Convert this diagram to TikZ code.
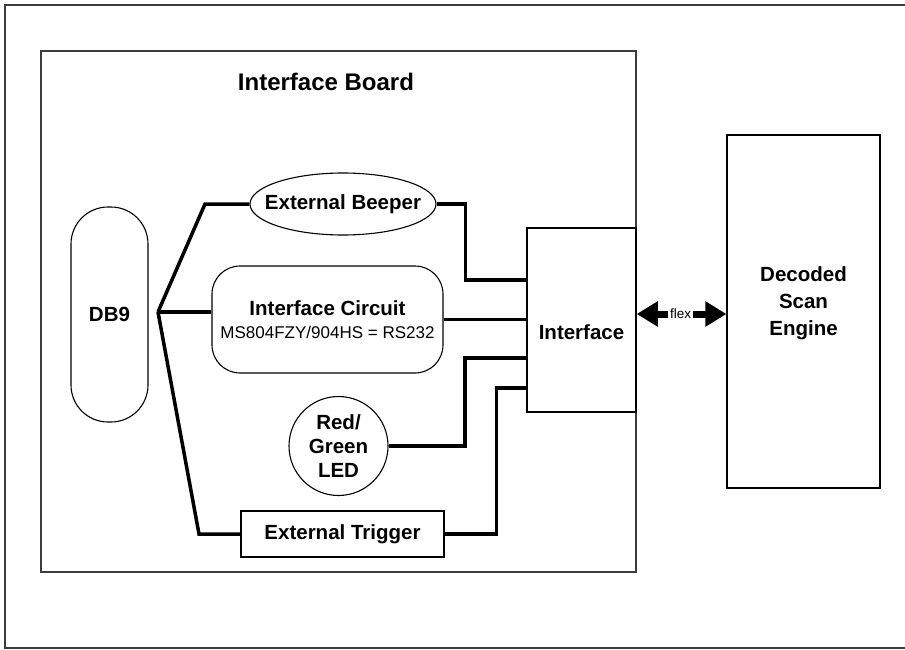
\documentclass[tikz,border=0pt]{standalone}
\usepackage{fontspec}
\setmainfont{Liberation Sans}
\usetikzlibrary{arrows.meta}
\usetikzlibrary{shapes.geometric}
\definecolor{frameGray}{RGB}{60,60,60}
\tikzset{
	frame/.style={draw=frameGray, line width=1.5pt},
	block/.style={draw=black, line width=1.1pt, inner sep=0pt, align=center,
		font=\bfseries\fontsize{20.5}{24}\selectfont},
	lbl/.style={font=\bfseries\fontsize{20.5}{24}\selectfont},
	wire/.style={black, line width=3.5pt},
	flexarrow/.style={black, line width=7pt, -{Triangle[length=21pt, width=24pt]}},
	flexlbl/.style={inner sep=1.5pt, font=\fontsize{13.5}{14}\selectfont},
}

\begin{document}
\begin{tikzpicture}[x=1pt, y=-1pt, line join=miter]
	\useasboundingbox (0,0) rectangle (905,650);

	% ---- Page frame (open on the right) ----
	\draw[frame] (906,5) -- (5,5) -- (5,648) -- (906,648);

	% ---- Interface board ----
	\node[frame, minimum width=595, minimum height=521, inner sep=0pt] (board) at (338.5,311.5) {};
	\node[font=\bfseries\fontsize{24}{28}\selectfont] (title) at (326,82) {Interface Board};

	% ---- Blocks on the board ----
	\node[block, rounded corners=37pt, minimum width=77, minimum height=215] (db9) at (109.5,314.5) {DB9};
	\node[block, ellipse, minimum width=186, minimum height=62,
		label={[lbl]center:External Beeper}] (beeper) at (343,204) {};
	\node[block, rounded corners=28pt, minimum width=231, minimum height=107] (circuit) at (327.5,319.5)
		{Interface Circuit\\[-1pt]{\mdseries\fontsize{17}{24}\selectfont MS804FZY/904HS = RS232}};
	\node[block, circle, minimum size=99] (led) at (338.5,446) {Red/\\Green\\LED};
	\node[block, minimum width=203, minimum height=46] (trigger) at (342.5,534) {External Trigger};
	\node[block, minimum width=109, minimum height=184,
		label={[lbl, yshift=-12pt]center:Interface}] (iface) at (581.5,320) {};

	% ---- Scan engine ----
	\node[block, minimum width=153, minimum height=353,
		label={[lbl, align=center, font=\bfseries\fontsize{20.5}{27}\selectfont, yshift=8pt]center:Decoded\\Scan\\Engine}] (engine) at (803.5,311.5) {};

	% ---- Wiring ----
	\coordinate (J) at (158,312);
	\coordinate (pinA) at (527,280);
	\coordinate (pinC) at (527,358);
	\coordinate (pinD) at (528,388);
	\draw[wire] (J) -- ++(47,-108) -- (beeper.west);
	\draw[wire] (J) -- (J -| circuit.west);
	\draw[wire] (J) -- ++(41,222) -- (trigger.west);
	\draw[wire] (beeper.east) -- ++(29,0) |- (pinA);
	\draw[wire] (circuit.east) -- (circuit.east -| iface.west);
	\draw[wire] (led.east) -- ++(76.5,0) |- (pinC);
	\draw[wire] (trigger.east) -- ++(52,0) |- (pinD);

	% ---- Flex cable ----
	\node[flexlbl] (flex) at (680.5,314) {flex};
	\draw[flexarrow] (flex.west) -- (flex.west -| board.east);
	\draw[flexarrow] (flex.east) -- (flex.east -| engine.west);

\end{tikzpicture}
\end{document}
